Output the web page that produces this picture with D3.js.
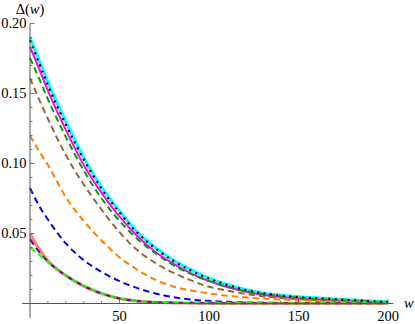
<!DOCTYPE html>
<html>
<head>
<meta charset="utf-8">
<script src="https://cdn.jsdelivr.net/npm/d3@7"></script>
<style>
  body { margin: 0; background: #fff; }
</style>
</head>
<body>
<div id="chart"></div>
<script>
// sample points along w, shared by every curve
var wVals = [0, 5, 10, 20, 30, 40, 50, 60, 70, 80, 90, 100, 110, 120, 130, 140, 150, 160, 170, 180, 190, 200];

// curve values
var cyanVals    = [0.190, 0.174, 0.158, 0.130, 0.104, 0.083, 0.066, 0.051, 0.040, 0.031, 0.024, 0.018, 0.0135, 0.0100, 0.0075, 0.0058, 0.0047, 0.0039, 0.0032, 0.0025, 0.0018, 0.0012];
var blackVals   = [0.188, 0.172, 0.156, 0.128, 0.103, 0.082, 0.065, 0.0505, 0.0395, 0.0305, 0.0235, 0.0178, 0.0133, 0.0098, 0.0074, 0.0057, 0.0046, 0.0038, 0.0031, 0.0024, 0.0017, 0.0011];
var magentaVals = [0.1834, 0.168, 0.152, 0.124, 0.099, 0.079, 0.062, 0.048, 0.037, 0.0285, 0.0215, 0.016, 0.0118, 0.0086, 0.0063, 0.0047, 0.0036, 0.0028, 0.0021, 0.0015, 0.0010, 0.0007];
var greenVals   = [0.1754, 0.161, 0.146, 0.119, 0.095, 0.075, 0.059, 0.046, 0.036, 0.0275, 0.021, 0.016, 0.012, 0.009, 0.0068, 0.0052, 0.0041, 0.0033, 0.0026, 0.0020, 0.0014, 0.0009];
var brownVals   = [0.161, 0.146, 0.132, 0.106, 0.085, 0.067, 0.051, 0.038, 0.029, 0.022, 0.0165, 0.012, 0.0092, 0.0070, 0.0052, 0.0040, 0.0031, 0.0024, 0.0018, 0.0013, 0.0009, 0.0006];
var orangeVals  = [0.120, 0.109, 0.099, 0.076, 0.059, 0.045, 0.033, 0.024, 0.017, 0.0122, 0.0093, 0.0072, 0.0055, 0.0044, 0.0035, 0.0029, 0.0023, 0.0018, 0.0014, 0.0011, 0.0008, 0.0006];
var blueVals    = [0.0825, 0.070, 0.060, 0.043, 0.031, 0.0225, 0.016, 0.011, 0.0072, 0.0045, 0.0028, 0.0018, 0.0012, 0.0008, 0.0006, 0.0004, 0.0003, 0.0002, 0.0001, 0.0001, 0.0001, 0.0001];
var salmonVals  = [0.050, 0.039, 0.0305, 0.020, 0.0125, 0.0072, 0.0036, 0.0018, 0.0009, 0.0005, 0.0003, 0.0002, 0.0001, 0.0001, 0.0001, 0.0001, 0.0001, 0.0001, 0.0001, 0.0001, 0.0001, 0.0001];
var purpleVals  = [0.046, 0.037, 0.030, 0.020, 0.0125, 0.0072, 0.0036, 0.0018, 0.0009, 0.0005, 0.0003, 0.0002, 0.0001, 0.0001, 0.0001, 0.0001, 0.0001, 0.0001, 0.0001, 0.0001, 0.0001, 0.0001];
var limeVals    = [0.040, 0.035, 0.0295, 0.020, 0.0125, 0.0072, 0.0036, 0.0018, 0.0009, 0.0005, 0.0003, 0.0002, 0.0001, 0.0001, 0.0001, 0.0001, 0.0001, 0.0001, 0.0001, 0.0001, 0.0001, 0.0001];

var xTicks = [50, 100, 150, 200];
var yTicks = [0.05, 0.10, 0.15, 0.20];

var width = 415, height = 324;
var serif = "'Liberation Serif', 'Times New Roman', Times, serif";

var svg = d3.select("#chart")
    .append("svg")
    .attr("width", width)
    .attr("height", height)
    .attr("font-family", serif);

// scales: origin of the axes at (30, 303.5)
var x = d3.scaleLinear().domain([0, 200]).range([30, 388]);
var y = d3.scaleLinear().domain([0, 0.20]).range([303.5, 23.5]);

// curves, in drawing order
var series = [
    { vals: cyanVals,    color: "#00ffff", w: 3.2, dash: null },
    { vals: magentaVals, color: "#ff00ff", w: 2,   dash: null },
    { vals: greenVals,   color: "#00a000", w: 2,   dash: "6.5,4" },
    { vals: brownVals,   color: "#996633", w: 2,   dash: "6.5,4" },
    { vals: orangeVals,  color: "#ff8000", w: 2,   dash: "6.5,4" },
    { vals: blueVals,    color: "#0000ff", w: 2,   dash: "6.5,4" },
    { vals: salmonVals,  color: "#ff8080", w: 3.2, dash: null },
    { vals: purpleVals,  color: "#800080", w: 2,   dash: "6.5,4" },
    { vals: limeVals,    color: "#00ff00", w: 2,   dash: "6.5,4" },
    { vals: blackVals,   color: "#000000", w: 2.2, dash: "2,4.5" }
];

var line = d3.line()
    .x(function (d) { return x(d[0]); })
    .y(function (d) { return y(d[1]); })
    .curve(d3.curveMonotoneX);

series.forEach(function (s) {
    var pts = wVals.map(function (w, i) { return [w, s.vals[i]]; });
    svg.append("path")
        .datum(pts)
        .attr("fill", "none")
        .attr("stroke", s.color)
        .attr("stroke-width", s.w)
        .attr("stroke-dasharray", s.dash)
        .attr("d", line);
});

var axisColor = "#555";

// x axis line, slightly padded to the left like Mathematica
svg.append("line")
    .attr("x1", x(-4.5)).attr("x2", x(203))
    .attr("y1", y(0)).attr("y2", y(0))
    .attr("stroke", axisColor).attr("stroke-width", 1);

// y axis line
svg.append("line")
    .attr("x1", x(0)).attr("x2", x(0))
    .attr("y1", y(0.2)).attr("y2", y(-0.0103))
    .attr("stroke", axisColor).attr("stroke-width", 1);

// x ticks: minor every 10, major every 50
d3.range(10, 201, 10).forEach(function (v) {
    var major = v % 50 === 0;
    svg.append("line")
        .attr("x1", x(v)).attr("x2", x(v))
        .attr("y1", y(0)).attr("y2", y(0) - (major ? 4.5 : 2.5))
        .attr("stroke", axisColor).attr("stroke-width", 0.8);
});

// y ticks: minor every 0.01, major every 0.05
d3.range(1, 21).forEach(function (k) {
    var v = k / 100;
    var major = k % 5 === 0;
    svg.append("line")
        .attr("x1", x(0)).attr("x2", x(0) + (major ? 4.5 : 2.5))
        .attr("y1", y(v)).attr("y2", y(v))
        .attr("stroke", axisColor).attr("stroke-width", 0.8);
});

// tick labels
svg.selectAll(".xLabel")
    .data(xTicks)
    .enter().append("text")
    .attr("class", "xLabel")
    .attr("x", function (d) { return x(d); })
    .attr("y", 321)
    .attr("text-anchor", "middle")
    .attr("font-size", 14.5)
    .text(function (d) { return d; });

svg.selectAll(".yLabel")
    .data(yTicks)
    .enter().append("text")
    .attr("class", "yLabel")
    .attr("x", 26.5)
    .attr("y", function (d) { return y(d) + 4.8; })
    .attr("text-anchor", "end")
    .attr("font-size", 14.5)
    .text(function (d) { return d.toFixed(2); });

// axis titles
var yTitle = svg.append("text")
    .attr("x", 30)
    .attr("y", 13.5)
    .attr("text-anchor", "middle")
    .attr("font-size", 14.5);
yTitle.append("tspan").text("\u0394(");
yTitle.append("tspan").attr("font-style", "italic").text("w");
yTitle.append("tspan").text(")");

svg.append("text")
    .attr("x", 404)
    .attr("y", 307.5)
    .attr("font-size", 14.5)
    .attr("font-style", "italic")
    .text("w");
</script>
</body>
</html>
